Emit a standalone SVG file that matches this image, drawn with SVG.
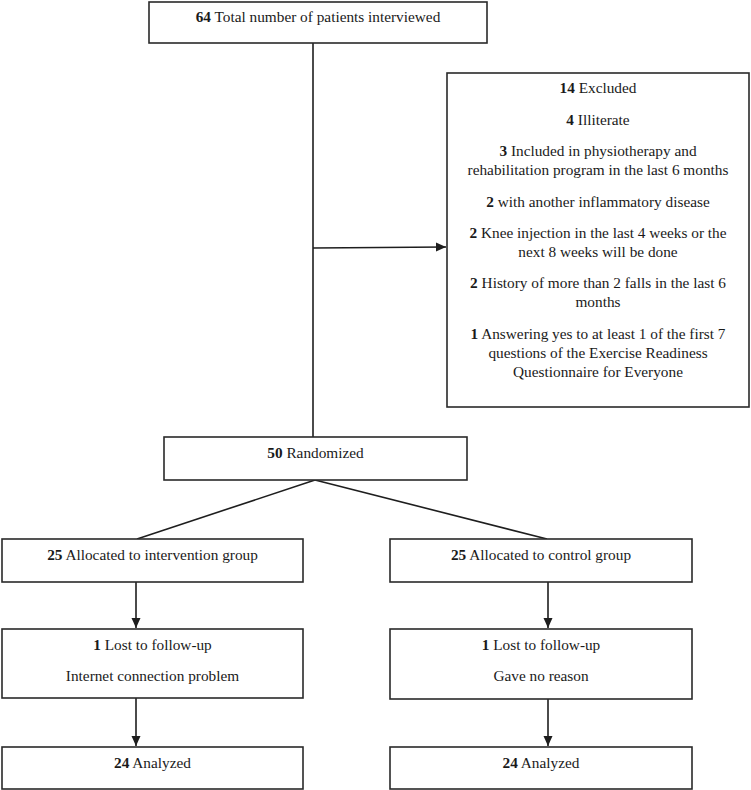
<svg xmlns="http://www.w3.org/2000/svg" width="751" height="790" viewBox="0 0 751 790">
<style>
.box{fill:#fff;stroke:#2a2a2a;stroke-width:1.6}
.ln{fill:none;stroke:#1e1e1e;stroke-width:1.6}
text{font-family:"Liberation Serif","Times New Roman",serif;font-size:15.3px;fill:#1a1a1a;text-anchor:middle}
.b{font-weight:bold}
</style>
<defs>
<marker id="ah" viewBox="0 0 10 10" refX="10" refY="5" markerWidth="10" markerHeight="10" markerUnits="userSpaceOnUse" orient="auto">
<path d="M0,0.5 L10,5 L0,9.5 z" fill="#1e1e1e"/>
</marker>
</defs>
<rect width="751" height="790" fill="#fff"/>
<g id="connectors">
<line class="ln" x1="313" y1="43" x2="313" y2="437"/>
<line class="ln" x1="313" y1="248" x2="446" y2="247" marker-end="url(#ah)"/>
<line class="ln" x1="315" y1="480" x2="137" y2="539"/>
<line class="ln" x1="315" y1="480" x2="547" y2="539"/>
<line class="ln" x1="136" y1="582" x2="136" y2="628" marker-end="url(#ah)"/>
<line class="ln" x1="136" y1="698" x2="136" y2="746" marker-end="url(#ah)"/>
<line class="ln" x1="548" y1="582" x2="548" y2="628" marker-end="url(#ah)"/>
<line class="ln" x1="548" y1="699" x2="548" y2="746" marker-end="url(#ah)"/>
</g>
<g id="total">
<rect class="box" x="149" y="2" width="338" height="41"/>
<text x="318" y="22"><tspan class="b">64</tspan> Total number of patients interviewed</text>
</g>
<g id="excluded">
<rect class="box" x="447" y="73" width="302" height="334"/>
<text x="598" y="93"><tspan class="b">14</tspan> Excluded</text>
<text x="598" y="125"><tspan class="b">4</tspan> Illiterate</text>
<text x="598" y="156"><tspan class="b">3</tspan> Included in physiotherapy and</text>
<text x="598" y="175">rehabilitation program in the last 6 months</text>
<text x="598" y="207"><tspan class="b">2</tspan> with another inflammatory disease</text>
<text x="598" y="238"><tspan class="b">2</tspan> Knee injection in the last 4 weeks or the</text>
<text x="598" y="257">next 8 weeks will be done</text>
<text x="598" y="288"><tspan class="b">2</tspan> History of more than 2 falls in the last 6</text>
<text x="598" y="307">months</text>
<text x="598" y="339"><tspan class="b">1</tspan> Answering yes to at least 1 of the first 7</text>
<text x="598" y="358">questions of the Exercise Readiness</text>
<text x="598" y="377">Questionnaire for Everyone</text>
</g>
<g id="randomized">
<rect class="box" x="164" y="437" width="303" height="43"/>
<text x="315.5" y="458"><tspan class="b">50</tspan> Randomized</text>
</g>
<g id="alloc-intervention">
<rect class="box" x="2" y="539" width="301" height="43"/>
<text x="152.5" y="560"><tspan class="b">25</tspan> Allocated to intervention group</text>
</g>
<g id="alloc-control">
<rect class="box" x="390" y="539" width="302" height="43"/>
<text x="541" y="560"><tspan class="b">25</tspan> Allocated to control group</text>
</g>
<g id="lost-intervention">
<rect class="box" x="2" y="629" width="301" height="69"/>
<text x="152.5" y="650"><tspan class="b">1</tspan> Lost to follow-up</text>
<text x="152.5" y="681">Internet connection problem</text>
</g>
<g id="lost-control">
<rect class="box" x="390" y="629" width="302" height="70"/>
<text x="541" y="650"><tspan class="b">1</tspan> Lost to follow-up</text>
<text x="541" y="681">Gave no reason</text>
</g>
<g id="analyzed-intervention">
<rect class="box" x="2" y="747" width="301" height="42"/>
<text x="152.5" y="768"><tspan class="b">24</tspan> Analyzed</text>
</g>
<g id="analyzed-control">
<rect class="box" x="390" y="747" width="302" height="42"/>
<text x="541" y="768"><tspan class="b">24</tspan> Analyzed</text>
</g>
</svg>
